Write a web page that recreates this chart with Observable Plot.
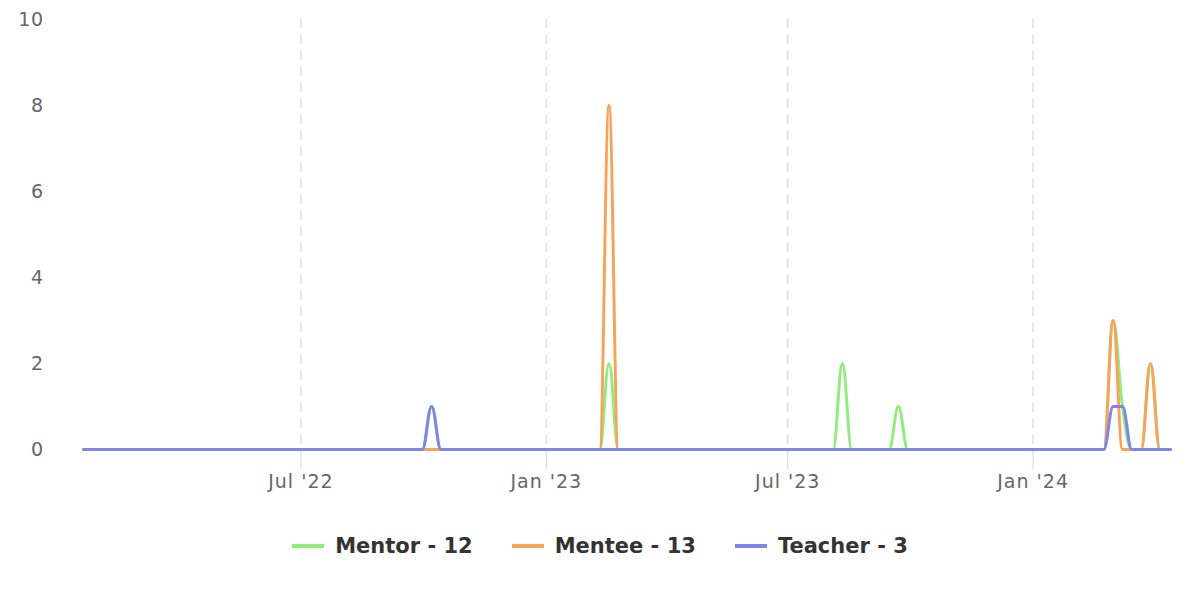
<!DOCTYPE html>
<html>
<head>
<meta charset="utf-8">
<script src="https://cdn.jsdelivr.net/npm/d3@7"></script>
<script src="https://cdn.jsdelivr.net/npm/@observablehq/plot@0.6"></script>
<style>
  html, body { margin: 0; padding: 0; background: #ffffff; }
  #chart { width: 1200px; }
  #chart g[aria-label="x-axis tick label"] text { letter-spacing: 1px; }
  #chart g[aria-label="y-axis tick label"] text { letter-spacing: 0.5px; }
  #legend { display: flex; justify-content: center; gap: 39px; margin-top: 34px; font: bold 21px "DejaVu Sans", sans-serif; color: #333333; line-height: 24px; }
  #legend .item { display: flex; align-items: center; }
  #legend .sw { display: inline-block; width: 32px; height: 4px; margin-right: 11px; }
</style>
</head>
<body>
<div id="chart"></div>
<script>
// ---- data ----
const seriesNames = ["Mentor", "Mentee", "Teacher"];
const seriesColors = ["#90ed7d", "#f7a35c", "#8085e9"];

const mentorDates = ["2022-01-19", "2022-09-30", "2022-10-07", "2022-10-14", "2023-02-10", "2023-02-17", "2023-02-24", "2023-08-04", "2023-08-11", "2023-08-18", "2023-09-15", "2023-09-22", "2023-09-29", "2024-02-23", "2024-03-01", "2024-03-08", "2024-03-15", "2024-03-22", "2024-03-29", "2024-04-05", "2024-04-13"];
const mentorValues = [0, 0, 1, 0, 0, 2, 0, 0, 2, 0, 0, 1, 0, 0, 3, 1, 0, 0, 2, 0, 0];

const menteeDates = ["2022-01-19", "2023-02-10", "2023-02-17", "2023-02-24", "2024-02-23", "2024-03-01", "2024-03-08", "2024-03-22", "2024-03-29", "2024-04-05", "2024-04-13"];
const menteeValues = [0, 0, 8, 0, 0, 3, 0, 0, 2, 0, 0];

const teacherDates = ["2022-01-19", "2022-09-30", "2022-10-07", "2022-10-14", "2024-02-23", "2024-03-01", "2024-03-08", "2024-03-15", "2024-04-13"];
const teacherValues = [0, 0, 1, 0, 0, 1, 1, 0, 0];

const xTicks = ["2022-07-01", "2023-01-01", "2023-07-01", "2024-01-01"];
const yTicks = [0, 2, 4, 6, 8, 10];

// ---- Highcharts-like spline curve ----
function HCSpline(context) { this._context = context; }
HCSpline.prototype = {
  areaStart() { this._line = 0; },
  areaEnd() { this._line = NaN; },
  lineStart() { this._pts = []; },
  point(x, y) { this._pts.push({x: +x, y: +y}); },
  lineEnd() {
    const p = this._pts, ctx = this._context, s = 1.5, den = s + 1;
    if (!p.length) return;
    for (let i = 1; i < p.length - 1; i++) {
      const a = p[i - 1], b = p[i], c = p[i + 1];
      let lx = (s * b.x + a.x) / den, ly = (s * b.y + a.y) / den;
      let rx = (s * b.x + c.x) / den, ry = (s * b.y + c.y) / den;
      let corr = 0;
      if (rx !== lx) corr = ((ry - ly) * (rx - b.x)) / (rx - lx) + b.y - ry;
      ly += corr; ry += corr;
      if (ly > a.y && ly > b.y) { ly = Math.max(a.y, b.y); ry = 2 * b.y - ly; }
      else if (ly < a.y && ly < b.y) { ly = Math.min(a.y, b.y); ry = 2 * b.y - ly; }
      if (ry > c.y && ry > b.y) { ry = Math.max(c.y, b.y); ly = 2 * b.y - ry; }
      else if (ry < c.y && ry < b.y) { ry = Math.min(c.y, b.y); ly = 2 * b.y - ry; }
      b.lx = lx; b.ly = ly; b.rx = rx; b.ry = ry;
    }
    ctx.moveTo(p[0].x, p[0].y);
    for (let i = 1; i < p.length; i++) {
      const a = p[i - 1], b = p[i];
      ctx.bezierCurveTo(a.rx ?? a.x, a.ry ?? a.y, b.lx ?? b.x, b.ly ?? b.y, b.x, b.y);
    }
    if (this._line === 0) ctx.closePath();
  }
};
const curveHC = (context) => new HCSpline(context);

// ---- build tables ----
const toRows = (dates, values) => dates.map((d, i) => ({date: new Date(d), value: values[i]}));
const tables = [toRows(mentorDates, mentorValues), toRows(menteeDates, menteeValues), toRows(teacherDates, teacherValues)];
const allDates = [mentorDates, menteeDates, teacherDates].flat().map(d => new Date(d));
const fmt = d3.utcFormat("%b '%y");

const chart = Plot.plot({
  width: 1200,
  height: 500,
  marginTop: 19,
  marginBottom: 51,
  marginLeft: 83,
  marginRight: 30,
  style: {fontFamily: "'DejaVu Sans', sans-serif", background: "#ffffff"},
  x: {type: "utc", domain: d3.extent(allDates)},
  y: {domain: [0, 10]},
  marks: [
    Plot.gridX(xTicks.map(d => new Date(d)), {stroke: "#dedede", strokeOpacity: 1, strokeWidth: 1.5, strokeDasharray: "9,7"}),
    Plot.axisX(xTicks.map(d => new Date(d)), {tickSize: 20, tickPadding: 5, stroke: "#ccd6eb", color: "#666666", fontSize: 19, tickFormat: fmt, label: null}),
    Plot.axisY(yTicks, {tickSize: 0, tickPadding: 40, color: "#666666", fontSize: 19, label: null}),
    ...tables.map((t, i) => Plot.line(t, {x: "date", y: "value", stroke: seriesColors[i], strokeWidth: 3, curve: curveHC}))
  ]
});
document.getElementById("chart").appendChild(chart);

// ---- legend ----
const legend = document.createElement("div");
legend.id = "legend";
seriesNames.forEach((name, i) => {
  const vals = [mentorValues, menteeValues, teacherValues][i];
  const item = document.createElement("div");
  item.className = "item";
  const sw = document.createElement("span");
  sw.className = "sw";
  sw.style.background = seriesColors[i];
  item.appendChild(sw);
  item.appendChild(document.createTextNode(`${name} - ${d3.sum(vals)}`));
  legend.appendChild(item);
});
document.body.appendChild(legend);
</script>
</body>
</html>
